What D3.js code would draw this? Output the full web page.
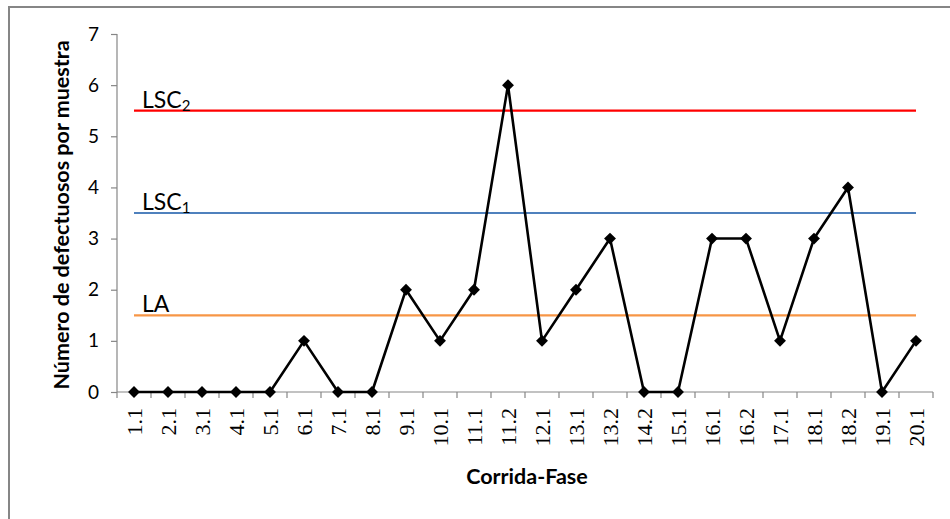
<!DOCTYPE html>
<html><head><meta charset="utf-8">
<script src="https://cdn.jsdelivr.net/npm/d3@7"></script>
<style>body{margin:0;background:#fff;}svg{display:block;}</style>
</head><body>
<svg id="c" width="950" height="519"></svg>
<script>
const categories = ["1.1","2.1","3.1","4.1","5.1","6.1","7.1","8.1","9.1","10.1","11.1","11.2","12.1","13.1","13.2","14.2","15.1","16.1","16.2","17.1","18.1","18.2","19.1","20.1"];
const defectos = [0,0,0,0,0,1,0,0,2,1,2,6,1,2,3,0,0,3,3,1,3,4,0,1];
const yTicks = [0,1,2,3,4,5,6,7];
const limits = [
  {name:"LSC", sub:"2", value:5.5, color:"#FF0000"},
  {name:"LSC", sub:"1", value:3.5, color:"#4F81BD"},
  {name:"LA",  sub:"",  value:1.5, color:"#F79646"}
];

(function(){
const svg = d3.select("#c");
const pL = 117, pR = 933, pT = 34, pB = 392;
const sans = "Lato, 'Open Sans', sans-serif";
svg.append("rect").attr("x",9).attr("y",7).attr("width",960).attr("height",530)
  .attr("fill","none").attr("stroke","#868686").attr("stroke-width",2);

const x = d3.scaleBand().domain(categories).range([pL,pR]);
const y = d3.scaleLinear().domain([0,7]).range([pB,pT]);

// y axis
const ya = svg.append("g").attr("transform",`translate(${pL},0)`)
  .call(d3.axisLeft(y).tickValues(yTicks).tickSize(6).tickPadding(12).tickFormat(d3.format("d")));
ya.select(".domain").attr("stroke","#868686").attr("stroke-width",1.2).attr("d",`M0,${pT}H0V${pB}`);
ya.selectAll(".tick line").attr("stroke","#868686").attr("stroke-width",1.2);
ya.selectAll(".tick text").attr("font-family",sans).attr("font-size",19).attr("fill","#000");

// x axis
const xa = svg.append("g").attr("transform",`translate(0,${pB})`);
xa.append("line").attr("x1",pL).attr("x2",pR).attr("y1",0).attr("y2",0)
  .attr("stroke","#868686").attr("stroke-width",1.2);
const bounds = categories.map(c=>x(c)).concat([pR]);
xa.selectAll("line.t").data(bounds).enter().append("line").attr("class","t")
  .attr("x1",d=>d).attr("x2",d=>d).attr("y1",0).attr("y2",6)
  .attr("stroke","#868686").attr("stroke-width",1.2);
xa.selectAll("text.t").data(categories).enter().append("text").attr("class","t")
  .attr("transform",d=>`translate(${x(d)+x.bandwidth()/2+8},16) rotate(-90)`)
  .attr("text-anchor","end")
  .attr("font-family","'Liberation Serif', serif").attr("font-size",22).attr("fill","#000")
  .text(d=>d);

// limit lines
const x0 = x(categories[0])+x.bandwidth()/2, x1 = x(categories[categories.length-1])+x.bandwidth()/2;
limits.forEach(l=>{
  svg.append("line").attr("x1",x0).attr("x2",x1).attr("y1",y(l.value)).attr("y2",y(l.value))
    .attr("stroke",l.color).attr("stroke-width",2.2);
  const t = svg.append("text").attr("x",x0+8).attr("y",y(l.value)-3)
    .attr("font-family",sans).attr("font-size",23).attr("fill","#000");
  t.append("tspan").text(l.name);
  if(l.sub) t.append("tspan").attr("font-size",15).attr("dy",3).text(l.sub);
});

// data line
const line = d3.line().x((d,i)=>x(categories[i])+x.bandwidth()/2).y(d=>y(d));
svg.append("path").datum(defectos).attr("d",line).attr("fill","none")
  .attr("stroke","#000").attr("stroke-width",2.6).attr("stroke-linejoin","round");
svg.selectAll("path.m").data(defectos).enter().append("path").attr("class","m")
  .attr("d",d3.symbol().type(d3.symbolDiamond2).size(90))
  .attr("transform",(d,i)=>`translate(${x(categories[i])+x.bandwidth()/2},${y(d)})`)
  .attr("fill","#000");

// axis titles
svg.append("text").attr("transform",`translate(69,${(pT+pB)/2+2}) rotate(-90)`)
  .attr("text-anchor","middle").attr("font-family",sans)
  .attr("font-weight","bold").attr("font-size",21.5).text("Número de defectuosos por muestra");
svg.append("text").attr("x",(pL+pR)/2 + 2).attr("y",484).attr("text-anchor","middle")
  .attr("font-family",sans).attr("font-weight","bold").attr("font-size",21.5)
  .text("Corrida-Fase");
})();
</script>
</body></html>
